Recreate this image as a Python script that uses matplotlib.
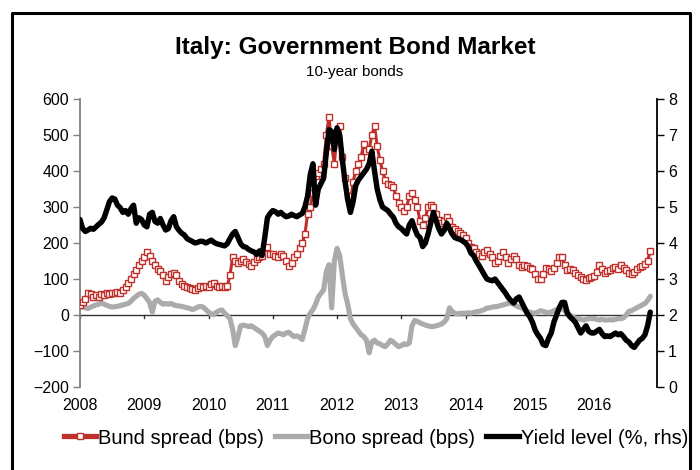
import numpy as np
import matplotlib
matplotlib.use("Agg")
import matplotlib.pyplot as plt
from matplotlib.lines import Line2D

plt.rcParams['font.family'] = ['Liberation Sans', 'DejaVu Sans']

# semi-monthly observations, Jan 2008 .. mid Nov 2016
start_year = 2008
n_obs = 214
dates = start_year + np.arange(n_obs) / 24.0

yield_pct = [
    # 2008
    4.65, 4.40, 4.32, 4.36, 4.41, 4.38, 4.45, 4.52, 4.58, 4.70, 4.92, 5.15,
    5.25, 5.22, 5.05, 4.98, 4.85, 4.90, 4.80, 4.95, 5.05, 4.55, 4.70, 4.65,
    # 2009
    4.50, 4.45, 4.80, 4.85, 4.60, 4.55, 4.68, 4.50, 4.36, 4.40, 4.62, 4.73,
    4.45, 4.35, 4.27, 4.22, 4.12, 4.08, 4.04, 4.00, 4.02, 4.05, 4.04, 4.00,
    # 2010
    4.04, 4.08, 4.02, 3.98, 3.96, 3.94, 3.92, 3.98, 4.12, 4.25, 4.32, 4.15,
    3.98, 3.90, 3.88, 3.82, 3.78, 3.75, 3.68, 3.78, 3.65, 4.15, 4.70, 4.82,
    # 2011
    4.90, 4.87, 4.80, 4.85, 4.78, 4.73, 4.75, 4.80, 4.76, 4.73, 4.78, 4.82,
    5.00, 5.30, 5.90, 6.20, 5.05, 5.50, 5.65, 5.80, 6.50, 7.15, 7.10, 6.60,
    # 2012
    7.20, 7.00, 6.30, 5.70, 5.20, 4.85, 5.15, 5.60, 5.75, 5.85, 5.95, 6.05,
    6.20, 6.55, 6.00, 5.50, 5.20, 5.00, 4.95, 4.90, 4.80, 4.72, 4.55, 4.45,
    # 2013
    4.40, 4.32, 4.25, 4.50, 4.62, 4.40, 4.22, 4.15, 3.90, 4.00, 4.25, 4.55,
    4.85, 4.62, 4.40, 4.25, 4.35, 4.55, 4.40, 4.25, 4.15, 4.12, 4.10, 4.05,
    # 2014
    4.00, 3.90, 3.72, 3.65, 3.50, 3.38, 3.25, 3.12, 3.00, 2.97, 2.95, 3.00,
    2.90, 2.80, 2.70, 2.60, 2.48, 2.40, 2.33, 2.45, 2.50, 2.35, 2.20, 2.05,
    # 2015
    1.95, 1.80, 1.58, 1.45, 1.35, 1.18, 1.15, 1.35, 1.50, 1.80, 2.00, 2.20,
    2.35, 2.35, 2.05, 1.95, 1.88, 1.80, 1.65, 1.50, 1.60, 1.70, 1.55, 1.50,
    # 2016
    1.50, 1.55, 1.60, 1.48, 1.40, 1.42, 1.40, 1.45, 1.50, 1.45, 1.48, 1.40,
    1.30, 1.25, 1.15, 1.10, 1.20, 1.30, 1.35, 1.45, 1.70, 2.08,
]

bund_spread = [
    # 2008
    29, 35, 45, 60, 58, 50, 55, 50, 57, 55, 60, 58,
    62, 60, 65, 62, 70, 78, 90, 100, 115, 125, 140, 150,
    # 2009
    160, 175, 165, 150, 140, 128, 122, 110, 95, 105, 115, 118,
    110, 95, 85, 80, 78, 75, 72, 70, 75, 80, 78, 80,
    # 2010
    78, 85, 88, 80, 78, 80, 78, 80, 110, 160, 150, 145,
    150, 155, 148, 142, 135, 148, 155, 162, 165, 185, 190, 170,
    # 2011
    170, 165, 160, 170, 165, 150, 135, 145, 160, 170, 185, 200,
    225, 280, 300, 340, 385, 395, 405, 420, 500, 550, 470, 420,
    # 2012
    505, 525, 440, 380, 330, 310, 370, 400, 420, 440, 475, 455,
    460, 500, 525, 470, 430, 400, 375, 365, 360, 355, 330, 310,
    # 2013
    300, 290, 300, 330, 340, 320, 300, 260, 250, 270, 300, 305,
    300, 280, 265, 255, 262, 272, 262, 245, 240, 232, 228, 222,
    # 2014
    215, 200, 190, 185, 175, 170, 165, 175, 180, 170, 160, 145,
    150, 165, 176, 160, 145, 155, 165, 155, 140, 134, 138, 135,
    # 2015
    130, 128, 115, 100, 100, 115, 130, 128, 122, 130, 145, 160,
    160, 140, 125, 128, 125, 118, 110, 105, 100, 98, 102, 105,
    # 2016
    108, 120, 140, 128, 118, 122, 125, 130, 132, 128, 138, 130,
    125, 118, 115, 120, 128, 134, 136, 142, 150, 178,
]

bono_spread = [
    # 2008
    24, 22, 20, 18, 22, 25, 28, 30, 33, 30, 27, 24,
    22, 23, 24, 26, 28, 30, 32, 38, 46, 52, 58, 60,
    # 2009
    55, 45, 35, 8, 38, 42, 35, 30, 32, 30, 32, 28,
    26, 25, 24, 22, 20, 18, 15, 18, 22, 24, 22, 15,
    # 2010
    8, 3, 1, 8, 12, 14, 5, -2, -10, -40, -85, -60,
    -30, -28, -30, -32, -30, -35, -40, -45, -50, -60, -85, -70,
    # 2011
    -60, -55, -50, -52, -55, -50, -48, -55, -60, -58, -62, -68,
    -40, -10, 5, 15, 30, 50, 60, 70, 120, 140, 20, 150,
    # 2012
    185, 165, 110, 60, 30, -10, -25, -35, -45, -55, -60, -70,
    -105, -75, -70, -78, -80, -85, -88, -80, -70, -75, -82, -88,
    # 2013
    -85, -80, -82, -78, -30, -15, -18, -22, -25, -28, -30, -32,
    -32, -30, -28, -25, -20, -10, 20, 10, 5, 3, 5, 5,
    # 2014
    5, 6, 5, 7, 9, 10, 12, 15, 19, 20, 22, 23,
    24, 26, 28, 30, 32, 33, 30, 25, 22, 20, 15, 10,
    # 2015
    8, 6, 5, 8, 12, 10, 8, 6, 8, 12, 15, 18,
    18, 12, 8, 0, -5, -9, -10, -12, -14, -12, -10, -10,
    # 2016
    -10, -12, -14, -12, -14, -14, -13, -14, -12, -10, -10, -8,
    0, 10, 12, 16, 20, 24, 28, 32, 40, 52,
]

year_ticks = list(range(2008, 2017))
left_ticks = [-200, -100, 0, 100, 200, 300, 400, 500, 600]
right_ticks = [0, 1, 2, 3, 4, 5, 6, 7, 8]
labels = ["Bund spread (bps)", "Bono spread (bps)", "Yield level (%, rhs)"]

RED = "#C0302A"
GRAY = "#ABABAB"
BLACK = "#000000"

fig = plt.figure(figsize=(7.0, 4.7), dpi=100)
ax = fig.add_axes([0.1143, 0.1766, 0.8243, 0.6128])
ax2 = ax.twinx()

ax.plot(dates, bund_spread, color=RED, lw=2.2, marker='s', ms=4.4,
        mfc='white', mec=RED, mew=1.0, zorder=3)
ax.plot(dates, bono_spread, color=GRAY, lw=3.7, solid_capstyle='round', zorder=2)
ax2.plot(dates, yield_pct, color=BLACK, lw=3.9, solid_capstyle='round', zorder=3)

ax.set_xlim(2008, 2016.98)
ax.set_ylim(-200, 600)
ax2.set_ylim(0, 8)
ax.set_yticks(left_ticks)
ax2.set_yticks(right_ticks)
ax.set_xticks(year_ticks)
ax.set_xticklabels([str(y) for y in year_ticks])

ax.axhline(0, color='#333333', lw=1.0, zorder=1)
for y in year_ticks:
    ax.plot([y, y], [0, -9], color='#333333', lw=1.0, zorder=1, clip_on=False)

for s in ['top', 'bottom']:
    ax.spines[s].set_visible(False)
    ax2.spines[s].set_visible(False)
ax.spines['right'].set_visible(False)
ax2.spines['left'].set_visible(False)
ax.spines['left'].set_color('#808080')
ax.spines['left'].set_linewidth(1.3)
ax2.spines['right'].set_color('black')
ax2.spines['right'].set_linewidth(1.3)

ax.tick_params(axis='y', direction='out', length=5, width=1, color='#808080',
               labelsize=11.5, pad=3)
ax2.tick_params(axis='y', direction='out', length=5, width=1, color='black',
                labelsize=11.5, pad=3)
ax.tick_params(axis='x', length=0, labelsize=11.5, pad=8)

fig.text(0.507, 0.899, "Italy: Government Bond Market", ha='center', va='center',
         fontsize=17.5, fontweight='bold')
fig.text(0.507, 0.847, "10-year bonds", ha='center', va='center', fontsize=11)

handles = [
    Line2D([0], [0], color=RED, lw=3.8, marker='s', ms=4, mfc='white', mec=RED, mew=1),
    Line2D([0], [0], color=GRAY, lw=3.8),
    Line2D([0], [0], color=BLACK, lw=3.8),
]
fig.legend(handles, labels, loc='center', bbox_to_anchor=(0.537, 0.068), ncol=3,
           frameon=False, fontsize=14.5, handlelength=1.6, handletextpad=0.1,
           columnspacing=0.55, numpoints=1)

# outer frame of the chart panel
fig.add_artist(Line2D([12/700, 12/700, 690/700, 690/700],
                      [0.0, 1 - 13/470, 1 - 13/470, 0.0],
                      transform=fig.transFigure, color='black', lw=2.2))

fig.savefig("out.png", dpi=100)
